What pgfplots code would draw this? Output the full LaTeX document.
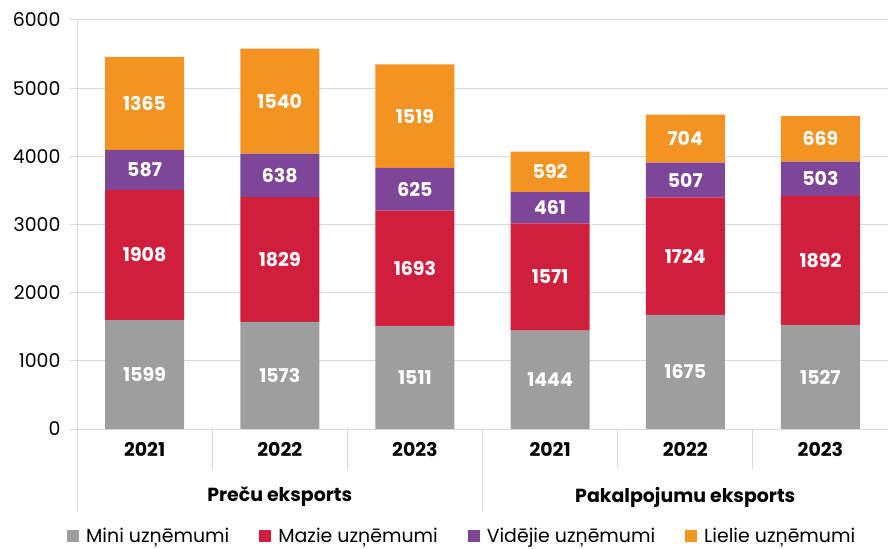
\documentclass[border=0pt]{standalone}
\usepackage{pgfplots}
\pgfplotsset{compat=1.18}
\usepackage{pgfplotstable}
\usepackage{fontspec}
\setmainfont{Poppins}
\definecolor{cmini}{HTML}{9E9E9E}
\definecolor{cmazie}{HTML}{D01F3C}
\definecolor{cvid}{HTML}{7E4699}
\definecolor{clie}{HTML}{F29322}
\definecolor{gridc}{HTML}{D9D9D9}
\pgfplotstableread{
x mini mazie vid lie
0 1599 1908 587 1365
1 1573 1829 638 1540
2 1511 1693 625 1519
3 1444 1571 461 592
4 1675 1724 507 704
5 1527 1892 503 669
}\data
\newcommand{\fs}{\fontsize{19}{22}\selectfont}
\begin{document}
\begin{tikzpicture}
\path[use as bounding box] (0,0) rectangle (888bp,549bp);
\begin{axis}[
  at={(77bp,120bp)}, anchor=south west,
  width=811bp, height=409bp, scale only axis,
  ybar stacked, bar width=79bp,
  xmin=-0.5, xmax=5.5, ymin=0, ymax=6000,
  axis x line*=bottom, axis y line*=left,
  axis line style={gridc, line width=1pt, -},
  ytick={0,1000,...,6000},
  xtick={0,...,5}, xticklabels={2021,2022,2023,2021,2022,2023},
  x tick style={draw=none},
  y tick style={gridc, line width=1pt},
  ytick pos=left, tick align=outside, major tick length=7bp,
  ymajorgrids, grid style={gridc, line width=1pt},
  /pgf/number format/assume math mode=true,
  /pgf/number format/1000 sep={},
  yticklabel style={font=\fs, anchor=east, xshift=-6bp},
  xticklabel style={font=\fs\bfseries, anchor=center, yshift=-13bp},
  clip=false,
  point meta=explicit symbolic,
  nodes near coords,
  every node near coord/.append style={font=\fs\bfseries, text=white, anchor=center},
  legend style={at={(0.475,-0.262)}, anchor=center, draw=none, fill=none,
    legend columns=4, font=\fs,
    /tikz/every odd column/.append style={column sep=5bp},
    /tikz/every even column/.append style={column sep=28bp}},
  legend image code/.code={\fill[#1] (0bp,-6bp) rectangle (12bp,6bp);},
]
\addplot[fill=cmini, draw=none] table[x=x, y=mini, meta=mini] {\data};
\addplot[fill=cmazie, draw=none] table[x=x, y=mazie, meta=mazie] {\data};
\addplot[fill=cvid, draw=none] table[x=x, y=vid, meta=vid] {\data};
\addplot[fill=clie, draw=none] table[x=x, y=lie, meta=lie] {\data};
\legend{Mini uzņēmumi, Mazie uzņēmumi, Vidējie uzņēmumi, Lielie uzņēmumi}
\draw[gridc, line width=1pt] (axis cs:0.5,0) -- ++(0bp,-40bp);
\draw[gridc, line width=1pt] (axis cs:1.5,0) -- ++(0bp,-40bp);
\draw[gridc, line width=1pt] (axis cs:3.5,0) -- ++(0bp,-40bp);
\draw[gridc, line width=1pt] (axis cs:4.5,0) -- ++(0bp,-40bp);
\draw[gridc, line width=1pt] (axis cs:-0.5,0) -- ++(0bp,-81bp);
\draw[gridc, line width=1pt] (axis cs:2.5,0) -- ++(0bp,-81bp);
\draw[gridc, line width=1pt] (axis cs:5.5,0) -- ++(0bp,-81bp);
\node[font=\fs\bfseries] at (axis cs:1,0) [yshift=-68bp] {Preču eksports};
\node[font=\fs\bfseries] at (axis cs:4,0) [yshift=-68bp] {Pakalpojumu eksports};
\end{axis}
\end{tikzpicture}
\end{document}
